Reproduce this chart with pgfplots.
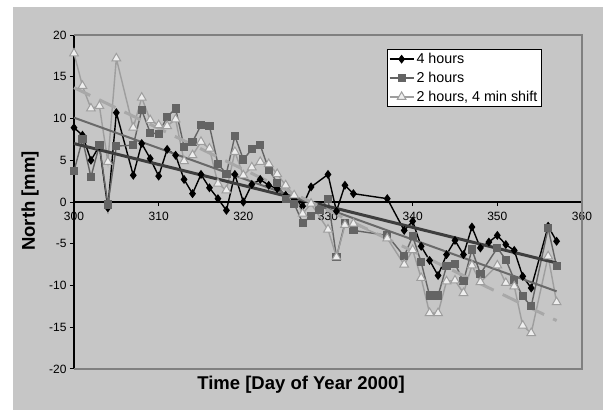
\documentclass[border=0pt]{standalone}
\usepackage{fontspec}
\setmainfont{Liberation Sans}
\usepackage{pgfplots}
\pgfplotsset{compat=1.18}
\definecolor{bg}{RGB}{198,198,198}
\definecolor{sqc}{RGB}{100,100,100}
\definecolor{tric}{RGB}{158,158,158}
\definecolor{trifill}{RGB}{238,238,238}
\definecolor{tr1}{RGB}{62,62,62}
\definecolor{tr2}{RGB}{105,105,105}
\definecolor{tr3}{RGB}{168,168,168}
\definecolor{frame}{RGB}{128,128,128}
\begin{document}
\begin{tikzpicture}[x=1pt,y=1pt]
\fill[white] (0,0) rectangle (603,410);
\useasboundingbox (0,0) rectangle (603,410);
\fill[bg] (13,0) rectangle (603,403);
\begin{axis}[
 at={(74pt,41pt)}, anchor=south west,
 width=508pt, height=334pt, scale only axis,
 xmin=300, xmax=360, ymin=-20, ymax=20,
 axis x line=middle, axis y line=left,
 axis line style={-,black,line width=1.2pt},
 hide obscured x ticks=false, hide obscured y ticks=false,
 xtick={300,310,...,360}, ytick={-20,-15,...,20},
 tick align=outside, major tick length=4pt,
 tick style={black,line width=1pt},
 ticklabel style={font=\fontsize{12}{14}\selectfont},
 xticklabel style={yshift=-3pt},
 /pgf/number format/assume math mode=true,
 clip=false,
 legend cell align=left,
 legend style={at={(0.616,0.958)}, anchor=north west, draw=black, fill=white,
   line width=1pt, font=\fontsize{14.3}{16}\selectfont, inner xsep=1.5pt, inner ysep=1.5pt,
   row sep=2.6pt, nodes={inner sep=2.2pt}},
 legend image code/.code={\draw[mark repeat=2,mark phase=2] plot coordinates {(0pt,0pt) (12pt,0pt) (24pt,0pt)};},
]
\draw[frame, line width=1.2pt] (rel axis cs:0,0) -- (rel axis cs:1,0) -- (rel axis cs:1,1) -- (rel axis cs:0,1);
\addplot[black, line width=1.4pt, mark=diamond*, mark size=3.4pt, mark options={solid,fill=black}] coordinates {
(300,8.9) (301,8.0) (302,5.0) (303,6.7) (304,-0.7) (305,10.7) (307,3.2) (308,7.0) (309,5.2) (310,3.1)
(311,6.3) (312,5.6) (313,2.7) (314,1.0) (315,3.3) (316,1.7) (317,0.4) (318,-1.0) (319,3.3) (320,0.0)
(321,2.1) (322,2.7) (323,2.0) (324,1.6) (325,0.8) (326,0.3) (327,-0.5) (328,1.8) (330,3.3) (331,-1.1)
(332,2.0) (333,1.0) (337,0.4) (339,-3.4) (340,-2.3) (341,-5.3) (342,-7.0) (343,-8.8) (344,-6.3) (345,-4.6)
(346,-6.3) (347,-3.0) (348,-5.5) (349,-4.8) (350,-4.0) (351,-5.1) (352,-5.8) (353,-8.9) (354,-10.3) (356,-2.9)
(357,-4.7)};
\addlegendentry{4 hours}
\addplot[sqc, line width=1.4pt, mark=square*, mark size=3.4pt, mark options={solid,fill=sqc,draw=sqc}] coordinates {
(300,3.7) (301,7.5) (302,3.0) (303,6.8) (304,-0.3) (305,6.7) (307,6.8) (308,11.0) (309,8.3) (310,8.15)
(311,10.2) (312,11.2) (313,6.6) (314,7.2) (315,9.2) (316,9.1) (317,4.55) (318,3.4) (319,7.9) (320,5.1)
(321,6.3) (322,6.8) (323,3.9) (324,2.3) (325,0.4) (326,-0.2) (327,-2.5) (328,-1.7) (329,-1.0) (330,0.4)
(331,-6.6) (332,-2.5) (333,-3.4) (337,-4.0) (339,-6.5) (340,-4.1) (341,-7.2) (342,-11.2) (343,-11.2) (344,-7.7)
(345,-7.4) (346,-9.5) (347,-5.7) (348,-8.6) (350,-5.5) (351,-6.9) (352,-9.3) (353,-11.3) (354,-12.5) (356,-3.15)
(357,-7.7)};
\addlegendentry{2 hours}
\addplot[tric, line width=1.4pt, mark=triangle*, mark size=5pt, mark options={solid,fill=trifill,draw=tric,line width=1pt}] coordinates {
(300,17.8) (301,13.9) (302,11.2) (303,11.5) (304,4.8) (305,17.2) (307,8.9) (308,12.5) (309,9.8) (310,9.2)
(311,9.1) (312,9.9) (313,4.9) (314,5.6) (315,7.2) (316,6.4) (317,2.2) (318,1.4) (319,6.0) (320,3.2)
(321,4.15) (322,4.8) (323,4.55) (324,3.35) (325,2.0) (326,0.8) (327,-1.4) (328,-0.2) (330,-3.3) (331,-6.6)
(332,-2.75) (333,-2.6) (337,-4.35) (339,-7.5) (340,-5.75) (341,-9.1) (342,-13.3) (343,-13.3) (344,-9.5) (345,-9.4)
(346,-10.9) (347,-7.6) (348,-9.6) (350,-7.6) (351,-9.7) (352,-10.1) (353,-14.8) (354,-15.7) (356,-6.5) (357,-12.0)};
\addlegendentry{2 hours, 4 min shift}
\addplot[forget plot, tr1, line width=3pt] coordinates {(300,7.0) (357,-7.3)};
\addplot[forget plot, tr2, line width=2pt] coordinates {(300,10.1) (357,-10.7)};
\addplot[forget plot, tr3, line width=3pt, dash pattern=on 18pt off 10pt] coordinates {(300,13.7) (357,-14.2)};
\end{axis}
\node[font=\bfseries\fontsize{18.5}{21}\selectfont] at (301,25) {Time [Day of Year 2000]};
\node[font=\bfseries\fontsize{18.5}{21}\selectfont, rotate=90] at (30,209) {North [mm]};
\end{tikzpicture}
\end{document}
